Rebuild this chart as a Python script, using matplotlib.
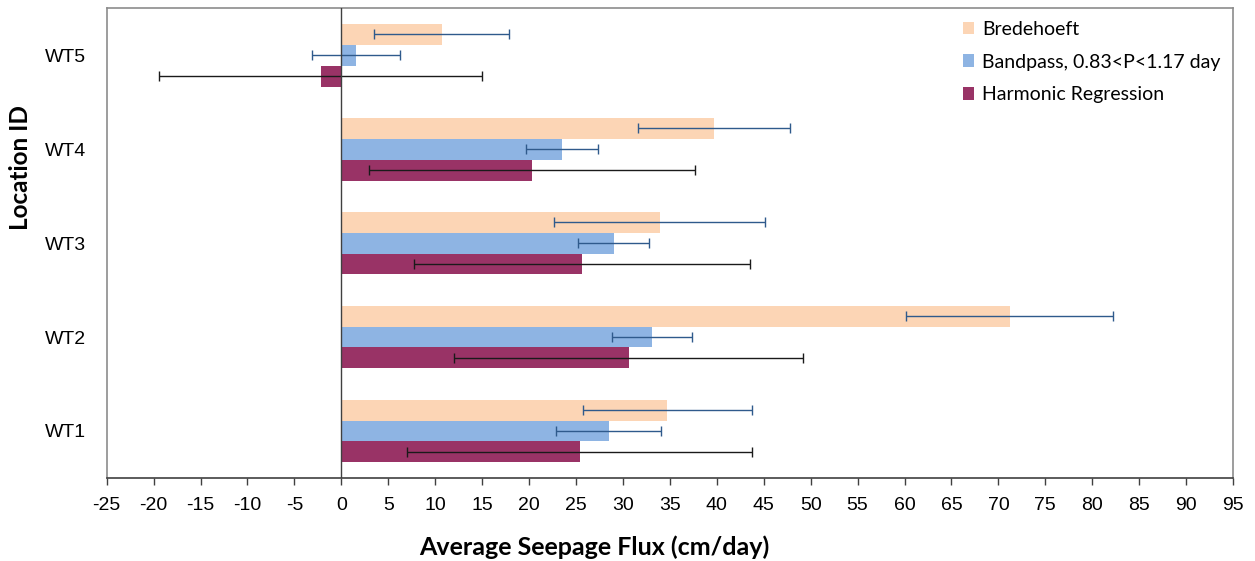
import numpy as np
import matplotlib
matplotlib.use('Agg')
import matplotlib.pyplot as plt

# Data
locations = ['WT1', 'WT2', 'WT3', 'WT4', 'WT5']
series_names = ['Bredehoeft', 'Bandpass, 0.83<P<1.17 day', 'Harmonic Regression']

bredehoeft = [34.7, 71.2, 33.9, 39.7, 10.7]
bredehoeft_err = [9.0, 11.0, 11.2, 8.1, 7.2]
bandpass = [28.5, 33.1, 29.0, 23.5, 1.6]
bandpass_err = [5.6, 4.3, 3.8, 3.8, 4.7]
harmonic = [25.4, 30.6, 25.6, 20.3, -2.2]
harmonic_err = [18.4, 18.6, 17.9, 17.4, 17.2]

xticks = list(range(-25, 100, 5))

# Colors
bar_colors = ['#FCD5B5', '#8EB4E3', '#993366']
err_colors = ['#2F5A8C', '#2F5A8C', '#1A1A1A']

fig = plt.figure(figsize=(12.55, 5.61), dpi=100)
ax = fig.add_axes([0.085, 0.148, 0.8975, 0.8375])

y = np.arange(len(locations))
h = 0.223
offsets = [h, 0, -h]
values = [bredehoeft, bandpass, harmonic]
errors = [bredehoeft_err, bandpass_err, harmonic_err]

for vals, errs, off, bc, ec, name in zip(values, errors, offsets, bar_colors, err_colors, series_names):
    ax.barh(y + off, vals, height=h, color=bc, label=name, zorder=2)
    ax.errorbar(vals, y + off, xerr=errs, fmt='none', ecolor=ec, elinewidth=1.0,
                capsize=3.5, capthick=1.0, zorder=3)

ax.axvline(0, color='#404040', lw=1.0, zorder=4)

ax.set_xlim(-25, 95)
ax.set_ylim(-0.5, 4.5)
ax.set_xticks(xticks)
ax.set_xticklabels([str(t) for t in xticks], fontsize=14, family='Liberation Sans')
ax.set_yticks(y)
ax.set_yticklabels(locations, fontsize=14, family='Liberation Sans')
ax.tick_params(axis='y', length=0, pad=15)
ax.tick_params(axis='x', direction='out', length=5, width=1, color='#404040', pad=9)

for side in ['left', 'top', 'right']:
    ax.spines[side].set_color('#8C8C8C')
    ax.spines[side].set_linewidth(1.2)
ax.spines['bottom'].set_color('#404040')
ax.spines['bottom'].set_linewidth(1.2)

ax.set_xlabel('Average Seepage Flux (cm/day)', fontsize=18, fontweight='bold', family='Lato')
ax.set_ylabel('Location ID', fontsize=17.5, fontweight='bold', family='Lato')
ax.xaxis.set_label_coords(0.433, -0.122)
ax.yaxis.set_label_coords(-0.066, 0.66)

leg = fig.legend(loc='upper left', bbox_to_anchor=(0.767, 0.963), frameon=False,
                 prop={'family': 'Lato', 'size': 14}, handlelength=0.6, handleheight=0.6,
                 handletextpad=0.4, labelspacing=0.81, borderpad=0, borderaxespad=0)

fig.savefig('out.png', dpi=100)
